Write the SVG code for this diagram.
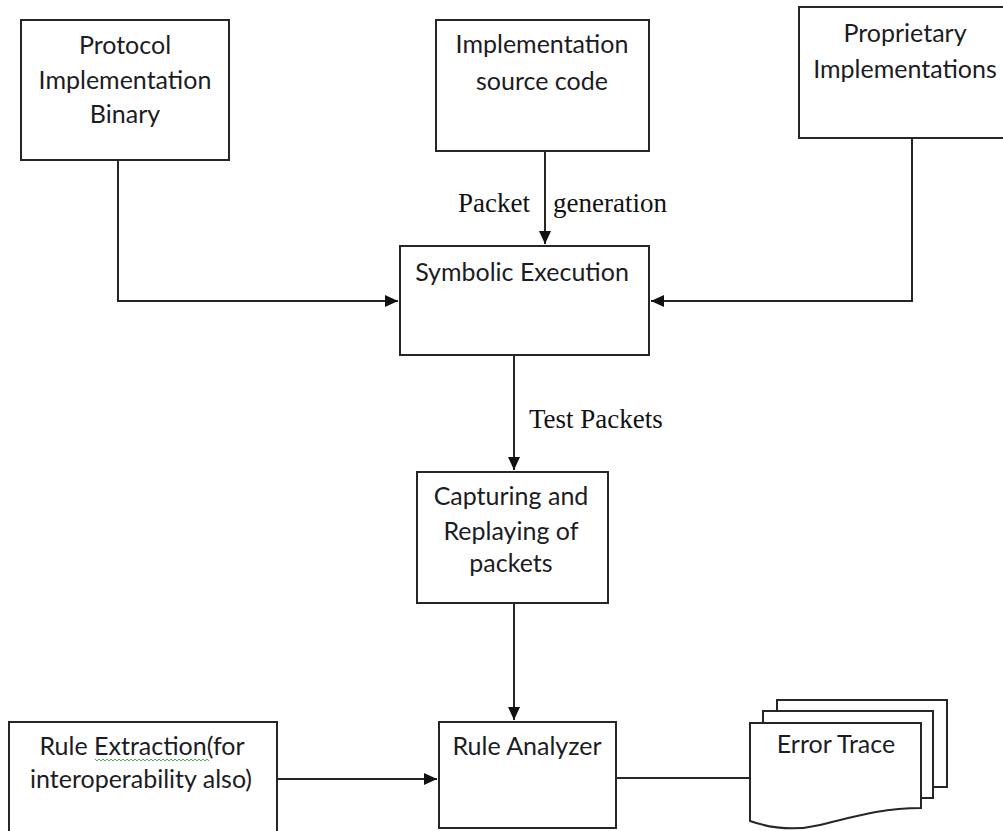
<svg xmlns="http://www.w3.org/2000/svg" width="1003" height="831" viewBox="0 0 1003 831">
<style>
.box{fill:#fff;stroke:#262626;stroke-width:2}
.t{font-family:Lato,"Liberation Sans",sans-serif;font-size:25px;fill:#1c1c24;text-anchor:middle}
.s{font-family:"Liberation Serif",serif;font-size:27px;fill:#111}
.c{fill:none;stroke:#262626;stroke-width:2}
</style>
<defs>
<marker id="ah" markerUnits="userSpaceOnUse" markerWidth="14" markerHeight="14" refX="13" refY="7" orient="auto">
<path d="M0,1 L13,7 L0,13 Z" fill="#111"/>
</marker>
</defs>
<rect width="1003" height="831" fill="#fff"/>
<g id="connectors">
<path class="c" d="M118,160 V301 H398" marker-end="url(#ah)"/>
<path class="c" d="M545,151 V244" marker-end="url(#ah)"/>
<path class="c" d="M912,138 V301 H651" marker-end="url(#ah)"/>
<path class="c" d="M514,355 V470" marker-end="url(#ah)"/>
<path class="c" d="M514,603 V720" marker-end="url(#ah)"/>
<path class="c" d="M277,779 H437" marker-end="url(#ah)"/>
<path class="c" d="M616,778 H750"/>
<text class="s" x="458" y="212">Packet</text>
<text class="s" x="553" y="212">generation</text>
<text class="s" x="529" y="428">Test Packets</text>
</g>
<g id="binary">
<rect class="box" x="21" y="20" width="208" height="140"/>
<text class="t" x="125" y="54">Protocol</text>
<text class="t" x="125" y="89">Implementation</text>
<text class="t" x="125" y="123">Binary</text>
</g>
<g id="source">
<rect class="box" x="436" y="20" width="213" height="131"/>
<text class="t" x="542" y="53">Implementation</text>
<text class="t" x="542" y="90">source code</text>
</g>
<g id="proprietary">
<rect class="box" x="799" y="7" width="214" height="131"/>
<text class="t" x="905" y="42">Proprietary</text>
<text class="t" x="905" y="78">Implementations</text>
</g>
<g id="symbolic">
<rect class="box" x="400" y="246" width="249" height="109"/>
<text class="t" x="522" y="281">Symbolic Execution</text>
</g>
<g id="capturing">
<rect class="box" x="417" y="472" width="191" height="131"/>
<text class="t" x="511" y="505">Capturing and</text>
<text class="t" x="511" y="540">Replaying of</text>
<text class="t" x="511" y="572">packets</text>
</g>
<g id="extraction">
<rect class="box" x="9" y="722" width="268" height="120"/>
<text class="t" x="142" y="755">Rule Extraction(for</text>
<text class="t" x="141" y="788">interoperability also)</text>
<path d="M95,759 l2,2 l2,-2 l2,2 l2,-2 l2,2 l2,-2 l2,2 l2,-2 l2,2 l2,-2 l2,2 l2,-2 l2,2 l2,-2 l2,2 l2,-2 l2,2 l2,-2 l2,2 l2,-2 l2,2 l2,-2 l2,2 l2,-2 l2,2 l2,-2 l2,2 l2,-2 l2,2 l2,-2 l2,2 l2,-2 l2,2 l2,-2 l2,2 l2,-2 l2,2 l2,-2 l2,2 l2,-2 l2,2 l2,-2 l2,2 l2,-2 l2,2 l2,-2 l2,2 l2,-2 l2,2 l2,-2 l2,2 l2,-2 l2,2 l2,-2 l2,2 l2,-2 l2,2" fill="none" stroke="#4caf50" stroke-width="1"/>
</g>
<g id="analyzer">
<rect class="box" x="439" y="722" width="177" height="106"/>
<text class="t" x="527" y="755">Rule Analyzer</text>
</g>
<g id="errortrace">
<rect class="box" x="777" y="700" width="170" height="87"/>
<rect class="box" x="763" y="711" width="170" height="87"/>
<path class="box" d="M750,723 H921 V808 C880,808 850,818 820,825 C795,831 770,828 750,821 Z"/>
<text class="t" x="836" y="753">Error Trace</text>
</g>
</svg>
